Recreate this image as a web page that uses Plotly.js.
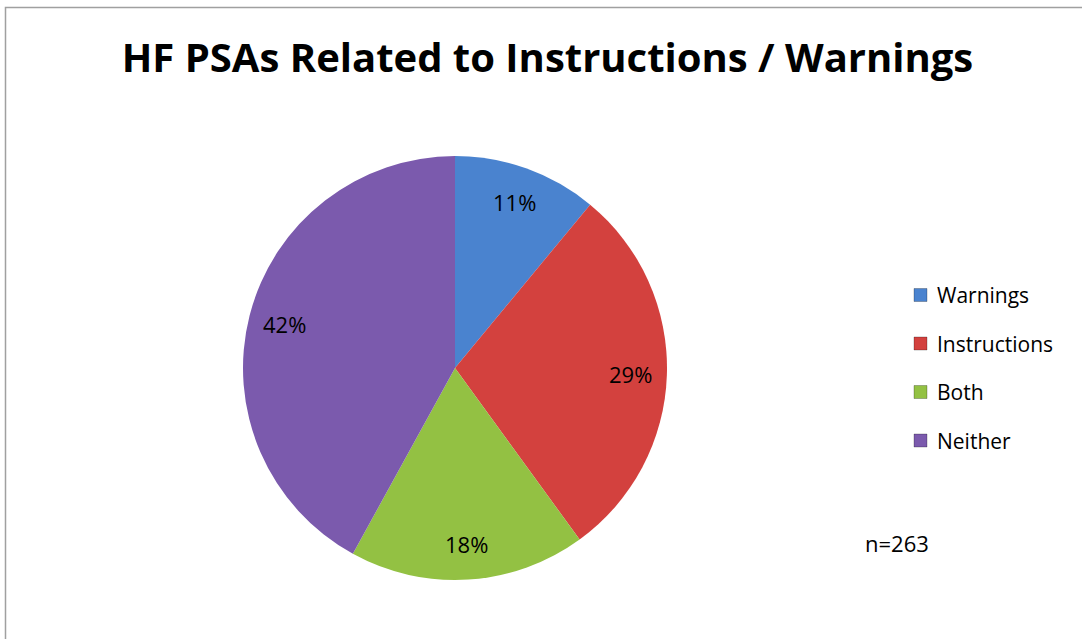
<!DOCTYPE html>
<html>
<head>
<meta charset="utf-8">
<script src="https://cdn.plot.ly/plotly-3.0.1.min.js"></script>
<style>html,body{margin:0;padding:0;background:#fff;}#chart{width:1082px;height:639px;}</style>
</head>
<body>
<div id="chart"></div>
<script>
// Data
const categories = ["Warnings", "Instructions", "Both", "Neither"];
const percentValues = [11, 29, 18, 42];
const sliceColors = ["#4a83cf", "#d3413e", "#93c143", "#7b5aad"];
const chartTitle = "HF PSAs Related to Instructions / Warnings";
const sampleNote = "n=263";

const W = 1082, H = 639;
const font = "'Open Sans', 'DejaVu Sans', sans-serif";

// Pie geometry (pixels)
const cx = 455, cy = 368, r = 212;
const labelRadius = 0.83;

const trace = {
  type: "pie",
  labels: categories,
  values: percentValues,
  sort: false,
  direction: "clockwise",
  rotation: 0,
  marker: { colors: sliceColors, line: { color: "rgba(255,255,255,0)", width: 0 } },
  textinfo: "none",
  hoverinfo: "none",
  showlegend: false,
  domain: { x: [(cx - r) / W, (cx + r) / W], y: [1 - (cy + r) / H, 1 - (cy - r) / H] }
};

const annotations = [];
const shapes = [];

// Percentage labels placed along each slice's mid-angle (derived from the values)
const total = percentValues.reduce((a, b) => a + b, 0);
let cum = 0;
percentValues.forEach((v, i) => {
  const mid = (cum + v / 2) / total * 2 * Math.PI; // clockwise from 12 o'clock
  cum += v;
  const px = cx + labelRadius * r * Math.sin(mid);
  const py = cy - labelRadius * r * Math.cos(mid);
  annotations.push({
    xref: "paper", yref: "paper", x: px / W, y: 1 - py / H,
    xanchor: "center", yanchor: "middle", showarrow: false,
    text: v + "%", font: { family: font, size: 22, color: "#000" }
  });
});

// Legend built from the categories/colours arrays
const legendX = 935, legendY0 = 295, legendStep = 48.5, sq = 13;
categories.forEach((c, i) => {
  const y = legendY0 + i * legendStep;
  annotations.push({
    xref: "paper", yref: "paper", x: legendX / W, y: 1 - y / H,
    xanchor: "left", yanchor: "middle", showarrow: false,
    text: c, font: { family: font, size: 21, color: "#000" }
  });
  shapes.push({
    type: "rect", xref: "paper", yref: "paper",
    x0: (legendX - 21) / W, x1: (legendX - 21 + sq) / W,
    y0: 1 - (y + sq / 2) / H, y1: 1 - (y - sq / 2) / H,
    fillcolor: sliceColors[i], line: { color: "rgba(0,0,0,0.25)", width: 1 }
  });
});
annotations.push({
  xref: "paper", yref: "paper", x: 897 / W, y: 1 - 543 / H,
  xanchor: "center", yanchor: "middle", showarrow: false,
  text: sampleNote, font: { family: font, size: 22, color: "#000" }
});
// chart frame
shapes.push({
  type: "rect", xref: "paper", yref: "paper",
  x0: 5.5 / W, x1: 1.2, y0: -0.2, y1: 1 - 7.5 / H,
  line: { color: "#a0a0a0", width: 1.5 }, fillcolor: "rgba(0,0,0,0)", layer: "below"
});

const layout = {
  width: W, height: H,
  margin: { l: 0, r: 0, t: 0, b: 0 },
  paper_bgcolor: "#fff",
  title: {
    text: "<b>" + chartTitle + "</b>",
    font: { family: font, size: 40, color: "#000" },
    x: 547.5 / W, xanchor: "center",
    y: 1 - 58 / H, yanchor: "middle", xref: "paper", yref: "paper"
  },
  annotations: annotations,
  shapes: shapes,
  showlegend: false
};

Plotly.newPlot("chart", [trace], layout, { displayModeBar: false, staticPlot: true });
</script>
</body>
</html>
